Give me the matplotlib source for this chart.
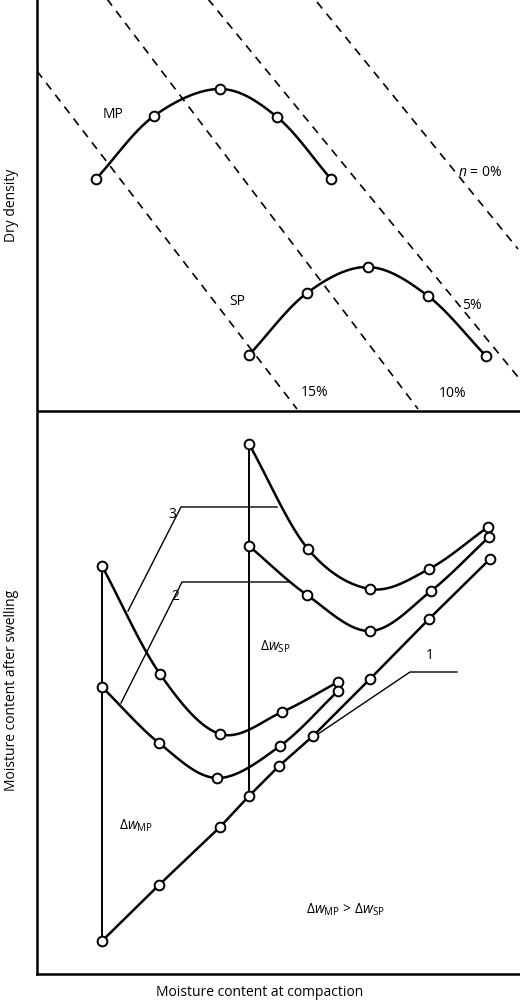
import numpy as np
import matplotlib
matplotlib.use("Agg")
import matplotlib.pyplot as plt

plt.rcParams['font.family'] = ['Open Sans', 'DejaVu Sans']
plt.rcParams['mathtext.fontset'] = 'custom'
plt.rcParams['mathtext.rm'] = 'Open Sans'
plt.rcParams['mathtext.it'] = 'Open Sans:italic'

# Values (pixel-like units: x to the right, y downward)
mp_x = [96, 154, 220, 277, 331]; mp_y = [180, 117, 90, 118, 180]
sp_x = [249, 307, 368, 428, 486]; sp_y = [356, 294, 268, 297, 357]
sat_lines = [((37, 72), (297, 410)), ((107, 0), (418, 410)),
             ((208, 0), (518, 378)), ((317, 3), (518, 250))]

line1_x = [102, 159, 220, 249, 279, 313, 370, 429, 490]
line1_y = [942, 886, 828, 797, 767, 737, 680, 620, 560]
mp3_x = [102, 160, 220, 282, 338]; mp3_y = [567, 675, 735, 713, 683]
mp2_x = [102, 159, 217, 280, 338]; mp2_y = [688, 744, 779, 747, 692]
sp3_x = [249, 308, 370, 429, 488]; sp3_y = [445, 550, 590, 570, 528]
sp2_x = [249, 307, 370, 431, 489]; sp2_y = [547, 596, 632, 592, 538]

def smooth(x, y, n=30):
    P = np.column_stack([x, y]).astype(float)
    P = np.vstack([2*P[0]-P[1], P, 2*P[-1]-P[-2]])
    out = []
    for i in range(1, len(P)-2):
        p0, p1, p2, p3 = P[i-1], P[i], P[i+1], P[i+2]
        t = np.linspace(0, 1, n)[:, None]
        out.append(0.5*((2*p1) + (-p0+p2)*t + (2*p0-5*p1+4*p2-p3)*t**2 + (-p0+3*p1-3*p2+p3)*t**3))
    C = np.vstack(out)
    return C[:, 0], C[:, 1]

fig = plt.figure(figsize=(5.2, 10.04), dpi=100)
ax = fig.add_axes([37/520, 29/1004, 483/520, 975/1004])
ax.set_xlim(37, 520); ax.set_ylim(975, 0)
for s in ["top", "right"]:
    ax.spines[s].set_visible(False)
ax.spines["left"].set_linewidth(1.8); ax.spines["bottom"].set_linewidth(1.8)
ax.set_xticks([]); ax.set_yticks([])
ax.axhline(412, color="black", lw=1.8)

mk = dict(marker="o", ms=7, mfc="white", mec="black", mew=1.4, ls="none", zorder=5)

for (a, b) in sat_lines:
    ax.plot([a[0], b[0]], [a[1], b[1]], color="black", lw=1.2, ls=(0, (5, 4)))

def curve(x, y):
    sx, sy = smooth(x, y)
    ax.plot(sx, sy, color="black", lw=1.8, zorder=3)
    ax.plot(x, y, **mk)

curve(mp_x, mp_y); curve(sp_x, sp_y)
curve(mp3_x, mp3_y); curve(mp2_x, mp2_y); curve(sp3_x, sp3_y); curve(sp2_x, sp2_y)
ax.plot(line1_x, line1_y, color="black", lw=1.8, zorder=3)
ax.plot(line1_x, line1_y, **mk)
ax.plot([102, 102], [567, 942], color="black", lw=1.4)
ax.plot([249, 249], [445, 797], color="black", lw=1.4)

# leaders
ax.plot([128, 181, 277], [612, 508, 508], color="black", lw=1.0)
ax.plot([121, 182, 290], [704, 583, 583], color="black", lw=1.0)
ax.plot([318, 410, 457], [735, 673, 673], color="black", lw=1.0)

fs = 10
ax.text(113, 115, "MP", fontsize=fs, ha="center", va="center")
ax.text(237, 302, "SP", fontsize=fs, ha="center", va="center")
ax.text(315, 393, "15%", fontsize=fs, ha="center", va="center")
ax.text(453, 394, "10%", fontsize=fs, ha="center", va="center")
ax.text(472, 306, "5%", fontsize=fs, ha="center", va="center")
ax.text(480, 173, "$n$ = 0%", fontsize=fs, ha="center", va="center")
ax.text(172, 515, "3", fontsize=fs, ha="center", va="center")
ax.text(175, 597, "2", fontsize=fs, ha="center", va="center")
ax.text(430, 656, "1", fontsize=fs, ha="center", va="center")
ax.text(275, 647, r"$\Delta \mathit{w}_{\mathrm{SP}}$", fontsize=fs, ha="center", va="center")
ax.text(136, 826, r"$\Delta \mathit{w}_{\mathrm{MP}}$", fontsize=fs, ha="center", va="center")
ax.text(345, 910, r"$\Delta \mathit{w}_{\mathrm{MP}}$ > $\Delta \mathit{w}_{\mathrm{SP}}$", fontsize=fs, ha="center", va="center")
fig.text(12/520, 1-205/1004, "Dry density", rotation=90, fontsize=fs, ha="center", va="center")
fig.text(12/520, 1-690/1004, "Moisture content after swelling", rotation=90, fontsize=fs, ha="center", va="center")
fig.text(260/520, 1-993/1004, "Moisture content at compaction", fontsize=fs, ha="center", va="center")
fig.savefig("out.png", dpi=100)
